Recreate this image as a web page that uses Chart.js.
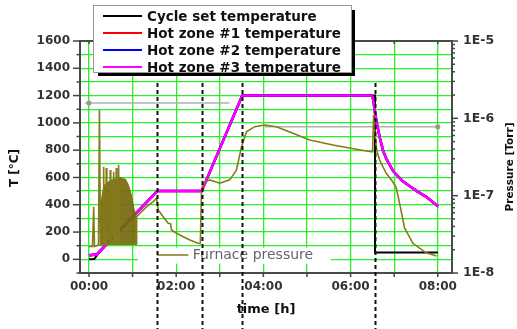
<!DOCTYPE html>
<html>
<head>
<meta charset="utf-8">
<script src="https://cdn.jsdelivr.net/npm/chart.js@4/dist/chart.umd.min.js"></script>
<style>
html,body{margin:0;padding:0;background:#fff;}
canvas{display:block;}
</style>
</head>
<body>
<canvas id="c" width="517" height="329"></canvas>
<script>
// ---- data (time in hours) ----
const seriesLabels = ['Cycle set temperature','Hot zone #1 temperature','Hot zone #2 temperature','Hot zone #3 temperature'];
const pressureLabel = 'Furnace pressure';

const setTempT = [0, 0.12, 0.3, 1.566, 2.585, 3.516, 6.56, 6.56, 8.0];
const setTempV = [0, 3, 76, 500, 500, 1200, 1200, 50, 50];

const zone1T = [0, 0.18, 1.566, 2.585, 3.516, 6.484, 6.521, 6.56, 6.6, 6.67, 6.75, 6.83, 6.98, 7.2, 7.36, 7.52, 7.75, 8.01];
const zone1V = [30, 36, 500, 500, 1200, 1200, 1169, 1074, 999, 891, 791, 730, 645, 572, 535, 500, 455, 388];
const zone2T = [0, 0.18, 1.566, 2.585, 3.516, 6.484, 6.521, 6.56, 6.6, 6.67, 6.75, 6.83, 6.98, 7.2, 7.36, 7.52, 7.75, 8.01];
const zone2V = [30, 36, 500, 500, 1200, 1200, 1169, 1074, 999, 891, 791, 730, 645, 572, 535, 500, 455, 388];
const zone3T = [0, 0.18, 1.566, 2.585, 3.516, 6.484, 6.521, 6.56, 6.6, 6.67, 6.75, 6.83, 6.98, 7.2, 7.36, 7.52, 7.75, 8.01];
const zone3V = [30, 36, 500, 500, 1200, 1200, 1169, 1074, 999, 891, 791, 730, 645, 572, 535, 500, 455, 388];

// furnace pressure [Torr]
const pressT = [0.0, 0.08, 0.108, 0.126, 0.218, 0.24, 0.263, 0.325, 0.337, 0.35, 0.385, 0.396, 0.41, 0.478, 0.488, 0.5,
  0.555, 0.566, 0.58, 0.615, 0.625, 0.64, 0.67, 0.68, 0.695, 1.09, 1.093, 1.322, 1.473, 1.551, 1.587, 1.702, 1.816, 1.87,
  1.894, 2.009, 2.16, 2.313, 2.503, 2.554, 2.581, 2.618, 2.771, 3.0, 3.229, 3.383, 3.498, 3.612, 3.802, 4.031, 4.299,
  4.679, 5.062, 5.596, 6.131, 6.475, 6.505, 6.528, 6.562, 6.597, 6.665, 6.818, 6.97, 7.048, 7.123, 7.238, 7.428, 7.735, 7.971];
const pressV = [2.2e-8, 2.2e-8, 7.2e-8, 2.2e-8, 2.3e-8, 1.28e-6, 2.3e-8, 2.35e-8, 2.37e-7, 2.35e-8, 2.35e-8, 2.28e-7, 2.35e-8, 2.35e-8, 2.15e-7, 2.35e-8,
  2.35e-8, 2.04e-7, 2.35e-8, 2.35e-8, 2.28e-7, 2.35e-8, 2.35e-8, 2.49e-7, 2.35e-8, 2.4e-8, 5.35e-8, 7.2e-8, 8.36e-8, 9.25e-8, 6.53e-8, 5.35e-8, 4.4e-8, 4.35e-8,
  3.6e-8, 3.26e-8, 2.94e-8, 2.67e-8, 2.42e-8, 2.4e-8, 1.18e-7, 1.45e-7, 1.6e-7, 1.45e-7, 1.6e-7, 2.15e-7, 4.3e-7, 6.7e-7, 7.8e-7, 8.2e-7, 7.8e-7,
  6.4e-7, 5.25e-7, 4.52e-7, 3.98e-7, 3.7e-7, 3.7e-7, 1.1e-6, 6.1e-7, 3.9e-7, 2.89e-7, 1.95e-7, 1.5e-7, 1.26e-7, 8.0e-8, 3.82e-8, 2.42e-8, 1.82e-8, 1.66e-8];

// dense oscillation envelope of the pressure trace during heating
const oscT = [0.25, 0.262, 0.298, 0.344, 0.481, 0.71, 0.847, 0.916, 0.985, 1.042, 1.093, 1.1];
const oscV = [2.3e-8, 8.0e-8, 1.1e-7, 1.37e-7, 1.6e-7, 1.74e-7, 1.64e-7, 1.37e-7, 1.02e-7, 6.9e-8, 5.45e-8, 2.37e-8];
const oscBase = 2.3e-8;

// axis-indicator lines
const tempMarkT = [-0.09, 0, 3.22];
const tempMarkV = [1145, 1145, 1145];
const pressMarkT = [4.03, 8.0];
const pressMarkV = [7.8e-7, 7.8e-7];

// process phase boundaries (dashed)
const phaseT = [1.566, 2.585, 3.516, 6.56];

const hourTicks = [0,1,2,3,4,5,6,7,8];
const tempTicks = [0,100,200,300,400,500,600,700,800,900,1000,1100,1200,1300,1400,1500,1600];
const pressTicks = [1e-8,2e-8,3e-8,4e-8,5e-8,6e-8,7e-8,8e-8,9e-8,1e-7,2e-7,3e-7,4e-7,5e-7,6e-7,7e-7,8e-7,9e-7,1e-6,2e-6,3e-6,4e-6,5e-6,6e-6,7e-6,8e-6,9e-6,1e-5];

const COLORS = ['#000000','#ff0000','#0000ff','#ff00ff'];
const OLIVE = '#857a1c';
const GREEN = 'rgb(40,240,40)';
const FONT = 'DejaVu Sans';

const zip = (t, v) => t.map((x, i) => ({x, y: v[i]}));

const decor = {
  id: 'decor',
  afterDatasetsDraw(chart) {
    const {ctx, chartArea: ca, scales: {x, yT, yP}} = chart;
    ctx.save();
    const line = (x1, y1, x2, y2) => { ctx.beginPath(); ctx.moveTo(x1, y1); ctx.lineTo(x2, y2); ctx.stroke(); };
    // frame
    ctx.strokeStyle = '#4a4a4a'; ctx.lineWidth = 2;
    ctx.strokeRect(ca.left, ca.top, ca.right - ca.left, ca.bottom - ca.top);
    // ticks
    ctx.lineWidth = 1.5; ctx.strokeStyle = '#444';
    for (let v = -100; v <= 1600; v += 100) {
      const y = yT.getPixelForValue(v);
      line(ca.left - (v % 200 === 0 ? 7 : 3.5), y, ca.left, y);
    }
    hourTicks.forEach(h => {
      const px = x.getPixelForValue(h);
      line(px, ca.bottom, px, ca.bottom + 4);
      line(px, ca.top, px, ca.top + 3);
    });
    pressTicks.forEach(p => {
      const y = yP.getPixelForValue(p);
      const major = Math.abs(Math.log10(p) - Math.round(Math.log10(p))) < 1e-6;
      line(ca.right, y, ca.right + (major ? 6 : 3), y);
    });
    // furnace pressure legend
    const fy = yT.getPixelForValue(20);
    ctx.fillStyle = '#fff';
    ctx.fillRect(x.getPixelForValue(1.12), fy - 9, 193, 16);
    ctx.strokeStyle = OLIVE; ctx.lineWidth = 1.5;
    line(x.getPixelForValue(1.56), fy - 1.5, x.getPixelForValue(2.28), fy - 1.5);
    ctx.fillStyle = '#666'; ctx.font = '14px ' + FONT; ctx.textBaseline = 'middle'; ctx.textAlign = 'left';
    ctx.fillText(pressureLabel, x.getPixelForValue(2.38), fy - 1);
    // dashed phase lines
    ctx.strokeStyle = '#111'; ctx.lineWidth = 2; ctx.setLineDash([4, 3]);
    phaseT.forEach(t => { const px = Math.round(x.getPixelForValue(t)) + 0.5; line(px, 83, px, chart.height); });
    ctx.setLineDash([]);
    // main legend
    const lx = 93, ly = 5, lw = 259, lh = 68;
    ctx.fillStyle = '#000';
    ctx.fillRect(lx + 5, ly + lh, lw - 2, 3);
    ctx.fillRect(lx + lw, ly + 5, 3, lh - 2);
    ctx.fillStyle = '#fff'; ctx.fillRect(lx, ly, lw, lh);
    ctx.strokeStyle = '#999'; ctx.lineWidth = 1; ctx.strokeRect(lx + 0.5, ly + 0.5, lw - 1, lh - 1);
    ctx.font = 'bold 13.5px ' + FONT; ctx.fillStyle = '#111';
    seriesLabels.forEach((lab, i) => {
      const yy = 16 + i * 17;
      ctx.strokeStyle = COLORS[i]; ctx.lineWidth = 2;
      line(103, yy, 142, yy);
      ctx.fillText(lab, 147, yy + 1);
    });
    ctx.restore();
  },
  afterDraw(chart) {
    const {ctx, chartArea: ca} = chart;
    ctx.save();
    ctx.fillStyle = '#111'; ctx.textAlign = 'center'; ctx.textBaseline = 'middle';
    ctx.font = 'bold 13px ' + FONT;
    ctx.fillText('time [h]', (ca.left + ca.right) / 2, 310);
    ctx.save(); ctx.translate(15, 168); ctx.rotate(-Math.PI / 2);
    ctx.font = 'bold 12px ' + FONT; ctx.fillText('T [°C]', 0, 0); ctx.restore();
    ctx.save(); ctx.translate(510, 167); ctx.rotate(-Math.PI / 2);
    ctx.font = 'bold 10.5px ' + FONT; ctx.fillText('Pressure [Torr]', 0, 0); ctx.restore();
    ctx.restore();
  }
};

const ds = (label, t, v, color, w, order) => ({
  label, data: zip(t, v), borderColor: color, borderWidth: w, pointRadius: 0,
  tension: 0, fill: false, yAxisID: 'yT', order
});

new Chart(document.getElementById('c'), {
  type: 'line',
  data: {
    datasets: [
      {label: 'tmark', data: zip(tempMarkT, tempMarkV), yAxisID: 'yT', borderColor: '#b0b0b0', borderWidth: 1.5,
       pointRadius: [0, 1.8, 0], pointBackgroundColor: '#999', pointBorderColor: '#999', order: 10},
      {label: 'pmark', data: zip(pressMarkT, pressMarkV), yAxisID: 'yP', borderColor: '#b0b0b0', borderWidth: 1.5,
       pointRadius: [0, 1.8], pointBackgroundColor: '#999', pointBorderColor: '#999', order: 10},
      ds(seriesLabels[0], setTempT, setTempV, COLORS[0], 2, 6),
      ds(seriesLabels[1], zone1T, zone1V, COLORS[1], 2.5, 5),
      ds(seriesLabels[2], zone2T, zone2V, COLORS[2], 2.5, 4),
      ds(seriesLabels[3], zone3T, zone3V, COLORS[3], 2.5, 3),
      {label: 'osc', data: zip(oscT, oscV), yAxisID: 'yP', borderWidth: 0, borderColor: 'rgba(0,0,0,0)',
       backgroundColor: 'rgba(115,102,10,0.9)', fill: {value: oscBase}, pointRadius: 0, tension: 0, order: 2},
      {label: pressureLabel, data: zip(pressT, pressV), yAxisID: 'yP', borderColor: OLIVE, borderWidth: 1.6,
       pointRadius: 0, tension: 0, fill: false, order: 1}
    ]
  },
  options: {
    responsive: false, devicePixelRatio: 1, animation: false,
    layout: {padding: {top: 41, left: 0, right: 0, bottom: 0}},
    plugins: {legend: {display: false}, tooltip: {enabled: false}},
    scales: {
      x: {
        type: 'linear', position: 'bottom', min: -0.206, max: 8.326,
        afterBuildTicks: s => { s.ticks = hourTicks.map(v => ({value: v})); },
        afterFit: s => { s.height = 56; },
        ticks: {autoSkip: false, maxRotation: 0, padding: 7, color: '#333',
          font: {family: FONT, weight: 'bold', size: 12},
          callback: v => v % 2 === 0 ? '0' + v + ':00' : ''},
        grid: {color: GREEN, lineWidth: 1.3, drawTicks: false},
        border: {display: false}
      },
      yT: {
        type: 'linear', position: 'left', min: -100, max: 1600,
        afterBuildTicks: s => { s.ticks = tempTicks.map(v => ({value: v})); },
        afterFit: s => { s.width = 80; },
        ticks: {autoSkip: false, padding: 10, color: '#333',
          font: {family: FONT, weight: 'bold', size: 12},
          callback: v => v % 200 === 0 ? String(v) : ''},
        grid: {color: c => c.tick && c.tick.value === 1600 ? 'rgba(0,0,0,0)' : GREEN, lineWidth: 1.3, drawTicks: false},
        border: {display: false}
      },
      yP: {
        type: 'logarithmic', position: 'right', min: 1e-8, max: 1e-5,
        afterBuildTicks: s => { s.ticks = pressTicks.map(v => ({value: v})); },
        afterFit: s => { s.width = 65; },
        ticks: {autoSkip: false, padding: 11, color: '#333',
          font: {family: FONT, weight: 'bold', size: 12.5},
          callback: v => {
            const e = Math.log10(v);
            return Math.abs(e - Math.round(e)) < 1e-6 ? '1E' + Math.round(e) : '';
          }},
        grid: {display: false, drawOnChartArea: false, drawTicks: false},
        border: {display: false}
      }
    }
  },
  plugins: [decor]
});
</script>
</body>
</html>
